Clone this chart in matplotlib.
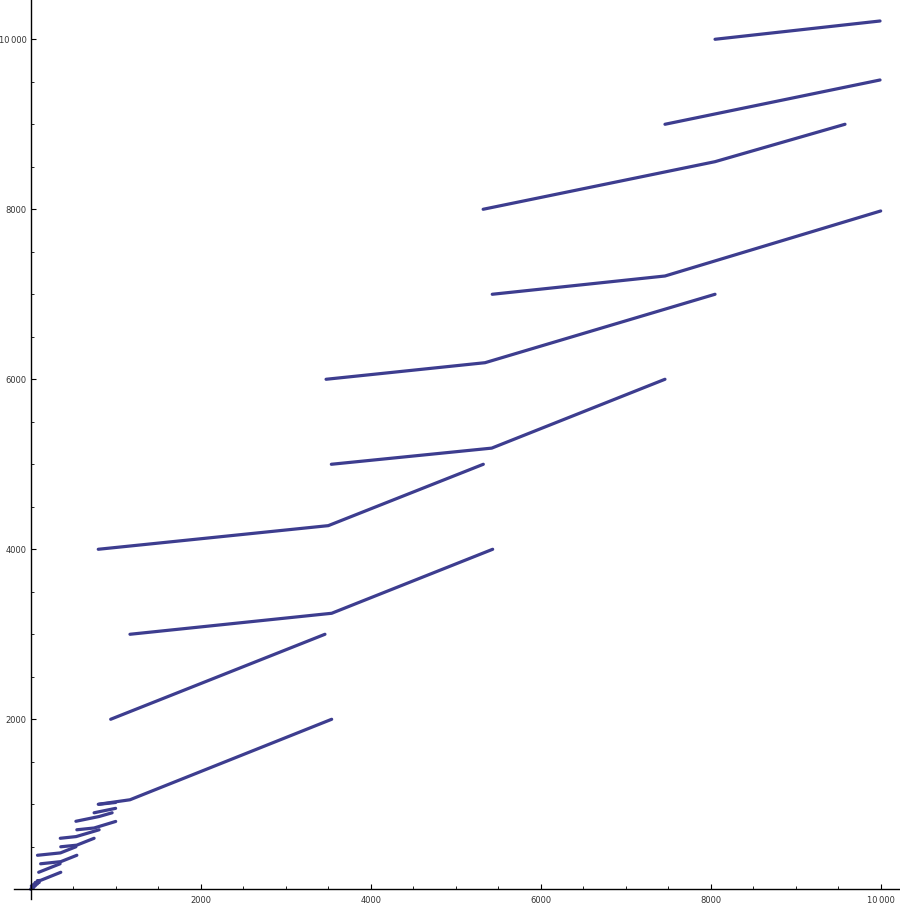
import matplotlib
matplotlib.use("Agg")
import matplotlib.pyplot as plt
from matplotlib.ticker import MultipleLocator

# ---- data ----
# large-scale segments (levels 1000..10000)
big_x = [
    [8051, 9992],
    [7462, 9992],
    [5323, 8051, 9580],
    [5430, 7462, 10000],
    [3475, 5345, 8051],
    [3537, 5424, 7462],
    [795, 3501, 5325],
    [1168, 3541, 5435],
    [941, 3462],
    [795, 1168, 3541],
]
big_y = [
    [10000, 10215],
    [9000, 9521],
    [8000, 8560, 9000],
    [7000, 7215, 7980],
    [6000, 6195, 7000],
    [5000, 5190, 6000],
    [4000, 4278, 5000],
    [3000, 3247, 4000],
    [2000, 3000],
    [1000, 1053, 2000],
]
# small-scale segments (levels 100..1000)
small_x = [
    [805, 999],
    [746, 999],
    [532, 805, 958],
    [543, 746, 1000],
    [348, 535, 805],
    [354, 542, 746],
    [80, 350, 532],
    [117, 354, 543],
    [94, 346],
    [80, 117, 354],
]
small_y = [
    [1000, 1021],
    [900, 952],
    [800, 856, 900],
    [700, 721, 798],
    [600, 620, 700],
    [500, 519, 600],
    [400, 428, 500],
    [300, 325, 400],
    [200, 300],
    [100, 105, 200],
]
# tiny segments near the origin (levels 10..100)
tiny_x = [
    [81, 100], [75, 100], [53, 81, 96], [54, 75, 100], [35, 53, 81],
    [35, 54, 75], [8, 35, 53], [12, 35, 54], [9, 35], [8, 12, 35],
]
tiny_y = [
    [100, 102], [90, 95], [80, 86, 90], [70, 72, 80], [60, 62, 70],
    [50, 52, 60], [40, 43, 50], [30, 32, 40], [20, 30], [10, 10.5, 20],
]
origin_x = [0, 8]
origin_y = [0, 10]

x_ticks = [2000, 4000, 6000, 8000, 10000]
x_tick_labels = ["2000", "4000", "6000", "8000", "10\u2009000"]
y_ticks = [2000, 4000, 6000, 8000, 10000]
y_tick_labels = ["2000", "4000", "6000", "8000", "10\u2009000"]

# ---- drawing ----
color = "#3d3d8f"
fig = plt.figure(figsize=(9.0, 9.05), dpi=100)
ax = fig.add_axes([0, 0, 1, 1])

for xs_list, ys_list in ((big_x, big_y), (small_x, small_y), (tiny_x, tiny_y)):
    for xs, ys in zip(xs_list, ys_list):
        ax.plot(xs, ys, color=color, lw=2.3, solid_capstyle="round",
                solid_joinstyle="round")
ax.plot(origin_x, origin_y, color=color, lw=2.3, solid_capstyle="round")

ax.set_xlim(-361, 10227)
ax.set_ylim(-185, 10462)

for s in ("top", "right"):
    ax.spines[s].set_visible(False)
ax.spines["left"].set_position(("data", 0))
ax.spines["bottom"].set_position(("data", 0))
ax.spines["left"].set_linewidth(1.0)
ax.spines["bottom"].set_linewidth(1.0)
ax.spines["left"].set_bounds(-110, 10462)
ax.spines["bottom"].set_bounds(-200, 10227)

ax.set_xticks(x_ticks)
ax.set_xticklabels(x_tick_labels)
ax.set_yticks(y_ticks)
ax.set_yticklabels(y_tick_labels)
ax.xaxis.set_minor_locator(MultipleLocator(500))
ax.yaxis.set_minor_locator(MultipleLocator(500))

ax.tick_params(axis="both", which="major", direction="in", length=3.5,
               width=0.8, labelsize=6, labelcolor="#333333", pad=3)
ax.tick_params(axis="both", which="minor", direction="in", length=2,
               width=0.6)
ax.tick_params(axis="x", which="major", pad=5)

fig.savefig("out.png", dpi=100)
